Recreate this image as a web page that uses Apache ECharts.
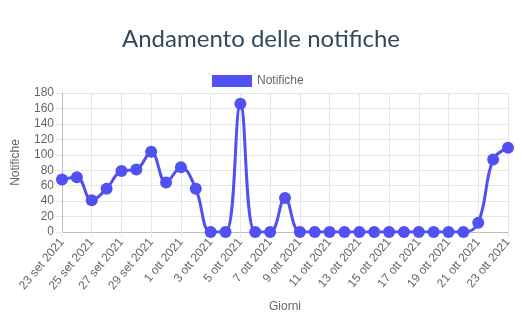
<!DOCTYPE html>
<html>
<head>
<meta charset="utf-8">
<script src="https://cdn.jsdelivr.net/npm/echarts@6/dist/echarts.min.js"></script>
<style>
html,body{margin:0;padding:0;background:#fff;}
#c{width:522px;height:330px;}
</style>
</head>
<body>
<div id="c"></div>
<script>
const categories = [
  "23 set 2021","24 set 2021","25 set 2021","26 set 2021","27 set 2021","28 set 2021",
  "29 set 2021","30 set 2021","1 ott 2021","2 ott 2021","3 ott 2021","4 ott 2021",
  "5 ott 2021","6 ott 2021","7 ott 2021","8 ott 2021","9 ott 2021","10 ott 2021",
  "11 ott 2021","12 ott 2021","13 ott 2021","14 ott 2021","15 ott 2021","16 ott 2021",
  "17 ott 2021","18 ott 2021","19 ott 2021","20 ott 2021","21 ott 2021","22 ott 2021",
  "23 ott 2021"
];
const notifiche = [68,71,41,56,79,81,104,64,84,56,0,0,166,0,0,44,0,0,0,0,0,0,0,0,0,0,0,0,12,94,109];
const yTicks = {min: 0, max: 180, interval: 20};

const chart = echarts.init(document.getElementById('c'), null, {renderer: 'canvas'});
const lineColor = '#5150f2';
const gridColor = '#e6e6e6';
chart.setOption({
  animation: false,
  title: {
    text: 'Andamento delle notifiche',
    left: 'center',
    top: 22,
    textStyle: {fontFamily: 'Lato', fontSize: 24, fontWeight: 'normal', color: '#34495e'}
  },
  legend: {
    top: 70,
    left: 207,
    icon: 'rect',
    itemWidth: 40,
    itemHeight: 12,
    itemGap: 10,
    textStyle: {fontFamily: 'Liberation Sans', fontSize: 12, color: '#666'},
    data: ['Notifiche']
  },
  grid: {left: 62, right: 14, top: 93, bottom: 98, containLabel: false},
  xAxis: {
    type: 'category',
    data: categories,
    boundaryGap: false,
    name: 'Giorni',
    nameLocation: 'middle',
    nameGap: 69,
    nameTextStyle: {fontFamily: 'Liberation Sans', fontSize: 12, color: '#666'},
    axisLine: {show: true, lineStyle: {color: '#bdbdbd'}},
    axisTick: {show: true, interval: 1, length: 6, lineStyle: {color: gridColor}},
    axisLabel: {interval: 1, rotate: 50, margin: 8, fontFamily: 'Liberation Sans', fontSize: 12, color: '#666'},
    splitLine: {show: true, interval: 1, lineStyle: {color: gridColor}}
  },
  yAxis: {
    type: 'value',
    min: yTicks.min,
    max: yTicks.max,
    interval: yTicks.interval,
    name: 'Notifiche',
    nameLocation: 'middle',
    nameGap: 40,
    nameTextStyle: {fontFamily: 'Liberation Sans', fontSize: 12, color: '#666'},
    axisLine: {show: true, lineStyle: {color: '#bdbdbd'}},
    axisTick: {show: true, length: 6, lineStyle: {color: gridColor}},
    axisLabel: {margin: 8, fontFamily: 'Liberation Sans', fontSize: 12, color: '#666'},
    splitLine: {show: true, lineStyle: {color: gridColor}}
  },
  series: [{
    name: 'Notifiche',
    type: 'line',
    data: notifiche,
    smooth: 0.4,
    symbol: 'circle',
    symbolSize: 12,
    showAllSymbol: true,
    lineStyle: {width: 3, color: lineColor},
    itemStyle: {color: lineColor}
  }]
});
</script>
</body>
</html>
